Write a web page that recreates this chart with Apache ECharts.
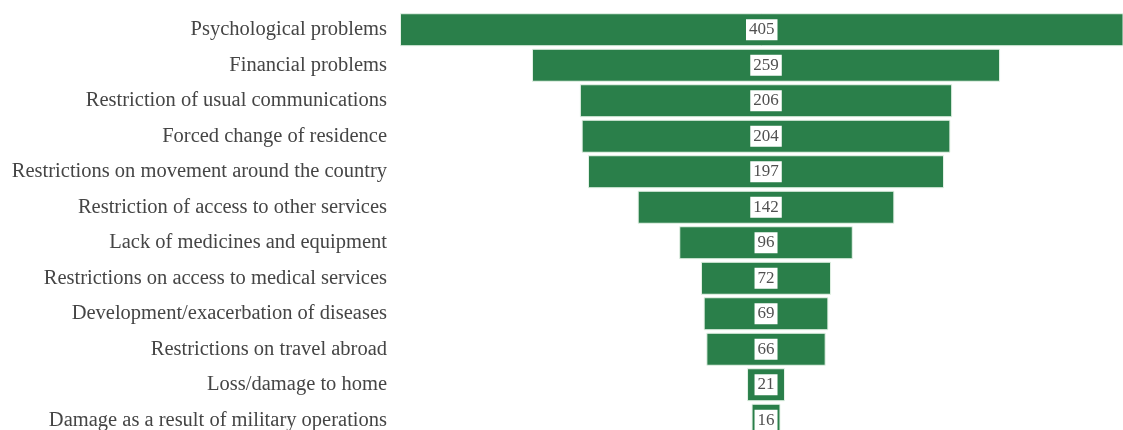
<!DOCTYPE html>
<html>
<head>
<meta charset="utf-8">
<script src="https://cdn.jsdelivr.net/npm/echarts@6/dist/echarts.min.js"></script>
<style>
  html, body { margin: 0; padding: 0; background: #ffffff; overflow: hidden; }
  /* the last row runs slightly past the visible bottom edge */
  #chart { width: 1123px; height: 438px; }
</style>
</head>
<body>
<div id="chart"></div>
<script>
// Reported problems, ordered from most to least frequent
const categories = [
  'Psychological problems',
  'Financial problems',
  'Restriction of usual communications',
  'Forced change of residence',
  'Restrictions on movement around the country',
  'Restriction of access to other services',
  'Lack of medicines and equipment',
  'Restrictions on access to medical services',
  'Development/exacerbation of diseases',
  'Restrictions on travel abroad',
  'Loss/damage to home',
  'Damage as a result of military operations'
];
const counts = [405, 259, 206, 204, 197, 142, 96, 72, 69, 66, 21, 16];

// Bars are centred on a common axis: an invisible spacer pushes each bar
// so that its middle sits at half of the largest value.
const centre = Math.max(...counts) / 2;
const spacer = counts.map(v => centre - v / 2);

const chart = echarts.init(document.getElementById('chart'));
chart.setOption({
  animation: false,
  grid: { left: 400, right: 0, top: 12, bottom: 0, containLabel: false },
  xAxis: {
    type: 'value',
    min: 0,
    max: 400,
    show: false
  },
  yAxis: {
    type: 'category',
    data: categories,
    inverse: true,
    axisLine: { show: false },
    axisTick: { show: false },
    axisLabel: {
      margin: 13,
      fontFamily: 'Liberation Serif',
      fontSize: 20.5,
      color: '#454545',
      padding: [5, 0, 0, 0]
    }
  },
  series: [
    {
      type: 'bar',
      stack: 'funnel',
      data: spacer,
      itemStyle: { color: 'transparent' },
      barCategoryGap: '7%',
      silent: true
    },
    {
      type: 'bar',
      stack: 'funnel',
      data: counts,
      barCategoryGap: '7%',
      itemStyle: { color: '#2a7f4a', borderColor: '#e6f3e8', borderWidth: 1 },
      label: {
        show: true,
        position: 'inside',
        fontFamily: 'Liberation Serif',
        fontSize: 17,
        color: '#505050',
        backgroundColor: '#ffffff',
        padding: [2, 3, 0, 3],
        lineHeight: 19
      }
    }
  ]
});
</script>
</body>
</html>
